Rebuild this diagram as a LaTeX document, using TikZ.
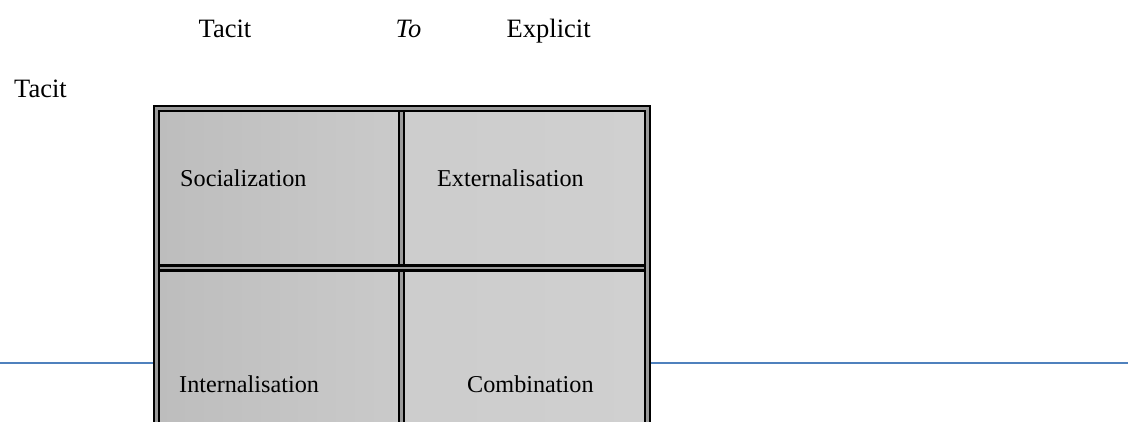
\documentclass[tikz,border=0pt]{standalone}
\usepackage{fontspec}
\setmainfont{Liberation Serif}
\definecolor{ruleGray}{HTML}{9A9A9A}
\definecolor{cellDark}{HTML}{BDBDBD}
\definecolor{cellMid}{HTML}{CACACA}
\definecolor{cellLight}{HTML}{D0D0D0}
\definecolor{lineBlue}{HTML}{4F81BD}
\begin{document}
\begin{tikzpicture}[x=1pt,y=-1pt,
  head/.style={anchor=base west,inner sep=0pt,font=\fontsize{26.5}{30}\selectfont},
  celltext/.style={anchor=base west,inner sep=0pt,font=\fontsize{24.2}{28}\selectfont},
  rule/.style={draw=black,double=ruleGray,line width=2.3pt,double distance=2.7pt,line join=miter},
  baseline rule/.style={draw=lineBlue,line width=1.6pt}]
\useasboundingbox (0,0) rectangle (1128,421);
\clip (0,0) rectangle (1128,421);

% frame corners and divider positions
\coordinate (tl) at (156.6,108.6);
\coordinate (tr) at (647.4,108.6);
\coordinate (bl) at (156.6,432);
\coordinate (br) at (647.4,432);
\coordinate (mt) at (401.5,108.6);
\coordinate (mb) at (401.5,432);
\coordinate (ml) at (156.6,268);
\coordinate (mr) at (647.4,268);

% horizontal blue rule running behind the table
\coordinate (hl) at (0,363);
\coordinate (hr) at (1128,363);
\draw[baseline rule] (hl) -- (hr);

% cell fills
\shade[left color=cellDark,right color=cellMid] (tl) rectangle (mb);
\shade[left color=cellMid!60!cellLight,right color=cellLight] (mt) rectangle (br);

% inner dividers, then the outer frame
\draw[rule] (mt) -- (mb);
\draw[rule] (ml) -- (mr);
\draw[rule] (bl) -- (tl) -- (tr) -- (br);

% headings
\node[head] (hTacit) at (198.5,37) {Tacit};
\node[head] (hTo) at (395.5,37) {\itshape To};
\node[head] (hExplicit) at (506.5,37) {Explicit};
\node[head] (vTacit) at (14,97) {Tacit};

% quadrant labels
\node[celltext] (soc) at (180,186) {Socialization};
\node[celltext] (ext) at (437,186) {Externalisation};
\node[celltext] (int) at (179,392) {Internalisation};
\node[celltext] (com) at (467,392) {Combination};
\end{tikzpicture}
\end{document}
